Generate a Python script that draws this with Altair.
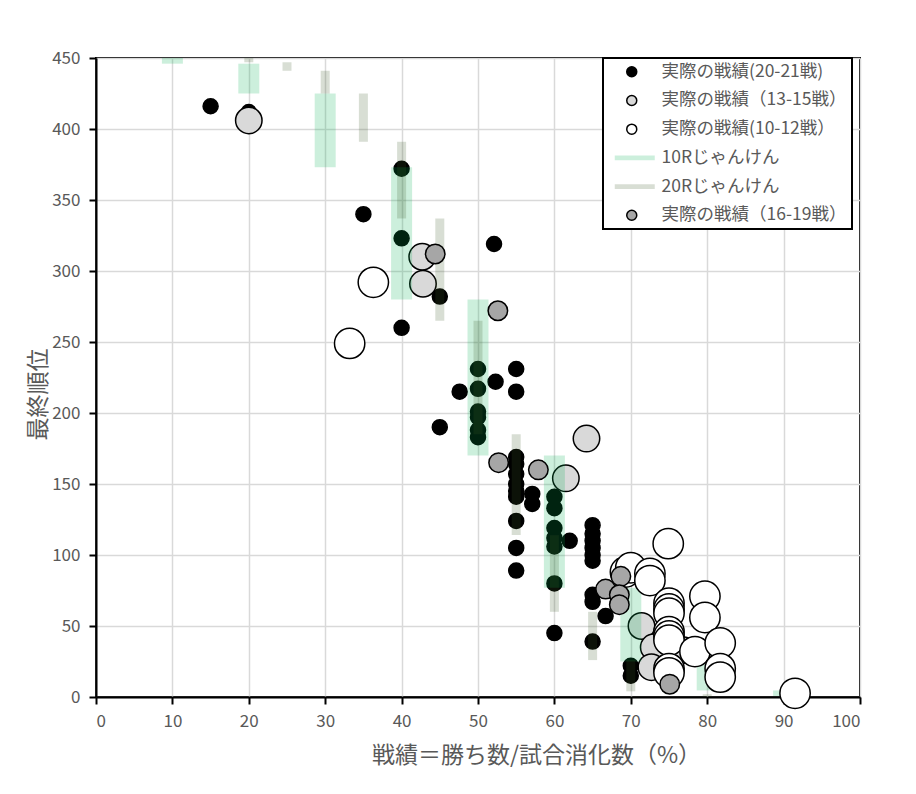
import altair as alt
import pandas as pd

FONT = "Noto Sans CJK JP"
TXT = "#595959"

S1 = "実際の戦績(20-21戦)"
S2 = "実際の戦績（13-15戦）"
S3 = "実際の戦績(10-12戦）"
S4 = "10Rじゃんけん"
S5 = "20Rじゃんけん"
S6 = "実際の戦績（16-19戦）"
SERIES = [S1, S2, S3, S4, S5, S6]

# 実際の戦績(20-21戦)
black_x = [15, 20, 35, 40, 40, 40, 45, 45, 47.6, 50, 50, 50, 50, 50, 50, 52.3, 52.1,
           55, 55, 55, 55, 55, 55, 55, 55, 55, 55, 55, 57.1, 57.1,
           60, 60, 60, 60, 60, 60, 60, 62, 65, 65, 65, 65, 65, 65, 65, 65, 65, 66.7, 70, 70]
black_y = [416, 412, 340, 372, 323, 260, 282, 190, 215, 231, 217, 201, 197, 188, 183, 222, 319,
           231, 215, 169, 164, 157, 150, 145, 141, 124, 105, 89, 143, 136,
           141, 133, 119, 112, 106, 80, 45, 110, 121, 115, 110, 105, 100, 96, 72, 67, 39, 57, 22, 15]

# 実際の戦績（13-15戦）
lgray_x = [20, 42.7, 42.8, 61.5, 64.2, 71.4, 73, 72.7, 76.9]
lgray_y = [406, 310, 291, 154, 182, 50, 35, 21, 33]

# 実際の戦績(10-12戦）
white_x = [33.2, 36.3, 69.3, 70, 72.5, 72.5, 74.9, 75, 75, 75, 75, 75, 75, 75, 75,
           79.7, 79.7, 78.4, 81.7, 81.7, 81.7, 91.5]
white_y = [249, 292, 88, 91, 87, 82, 108, 66, 62, 59, 46, 43, 40, 20, 17,
           71, 56, 32, 38, 20, 14, 2.6]

# 実際の戦績（16-19戦）
gray_x = [44.4, 52.6, 52.7, 57.9, 68.7, 66.7, 68.5, 68.5, 75.1]
gray_y = [312, 272, 165, 160, 85, 76, 72, 65, 9]

# 10Rじゃんけん (range of final rank per win rate)
r10_x = [10, 20, 30, 40, 50, 60, 70, 80, 90]
r10_lo = [446, 425, 373, 280, 170, 77, 25, 4.6, 0.7]
r10_hi = [455, 446, 425, 373, 280, 170, 77, 24.6, 4.6]

# 20Rじゃんけん
r20_x = [20, 25, 30, 35, 40, 45, 50, 55, 60, 65, 70, 75, 80]
r20_lo = [447, 441, 425, 391, 337, 265, 185, 114, 60, 26, 4, 2, 0.2]
r20_hi = [455, 447, 441, 425, 391, 337, 265, 185, 114, 60, 26, 4, 2]


def pts(xs, ys, name):
    return pd.DataFrame({"x": xs, "y": ys, "series": name})


def rng(xs, lo, hi, name):
    return pd.DataFrame({"x": xs, "y": lo, "y2": hi, "series": name})


BAR_PATH = "M-3.4,-0.47H4.6V0.47H-3.4Z"

legend = alt.Legend(
    title=None, orient="none", legendX=507, legendY=0,
    padding=5, rowPadding=9.7, strokeColor="black", fillColor="white",
    labelFont=FONT, labelFontSize=17.5, labelColor=TXT, labelOffset=21,
    labelLimit=400, labelExpr="datum.label + '\u3000'",
    symbolSize=100, symbolStrokeWidth=1.5, symbolOffset=15,
)

fill = alt.Fill("series:N", scale=alt.Scale(
    domain=SERIES,
    range=["#000000", "#d9d9d9", "#ffffff", "rgba(0,176,80,0.2)",
           "rgba(59,90,42,0.2)", "#a6a6a6"]), legend=legend)
stroke = alt.Stroke("series:N", scale=alt.Scale(
    domain=SERIES,
    range=["#000000", "#000000", "#000000", "transparent", "transparent", "#000000"]),
    legend=legend)
shape = alt.Shape("series:N", scale=alt.Scale(
    domain=SERIES,
    range=["circle", "circle", "circle", BAR_PATH, BAR_PATH, "circle"]), legend=legend)

X = alt.X("x:Q", scale=alt.Scale(domain=[0, 100], nice=False, padding=0),
          axis=alt.Axis(values=list(range(0, 101, 10)),
                        title="戦績＝勝ち数/試合消化数（%）",
                        titleX=440, titleY=58, titleBaseline="middle",
                        titleAlign="center"))
Y = alt.Y("y:Q", scale=alt.Scale(domain=[0, 450], nice=False, padding=0),
          axis=alt.Axis(values=list(range(0, 451, 50)), title="最終順位",
                        titleX=-58, titleY=336, titleBaseline="middle",
                        titleAlign="center"))


def point_layer(df, size):
    return alt.Chart(df).mark_point(filled=True, size=size, strokeWidth=1.5,
                                    opacity=1).encode(x=X, y=Y, fill=fill,
                                                      stroke=stroke, shape=shape)


def bar_layer(df, w):
    return alt.Chart(df).mark_bar(width=w, clip=True).encode(
        x=X, y=Y, y2="y2:Q", fill=fill, stroke=stroke)


chart = alt.layer(
    point_layer(pts(black_x, black_y, S1), 225),
    point_layer(pts(lgray_x, lgray_y, S2), 700),
    bar_layer(rng(r10_x, r10_lo, r10_hi, S4), 21),
    bar_layer(rng(r20_x, r20_lo, r20_hi, S5), 9),
    point_layer(pts(white_x, white_y, S3), 920),
    point_layer(pts(gray_x, gray_y, S6), 380),
).properties(
    width=764, height=639,
    autosize=alt.AutoSizeParams(type="none"),
    padding={"left": 88, "top": 50, "right": 40, "bottom": 80},
).configure(
    background="white", font=FONT,
).configure_view(
    stroke="black", strokeWidth=2,
).configure_legend(
    strokeWidth=2,
).configure_axis(
    grid=True, gridColor="#d9d9d9", gridWidth=1.5,
    domainColor="black", domainWidth=2,
    tickColor="black", tickWidth=2, tickSize=7,
    labelFont=FONT, labelFontSize=17, labelColor=TXT, labelPadding=9,
    titleFont=FONT, titleFontSize=23, titleColor=TXT, titleFontWeight="normal",
)

chart.save("out.html", embed_options={"renderer": "svg", "actions": False})
